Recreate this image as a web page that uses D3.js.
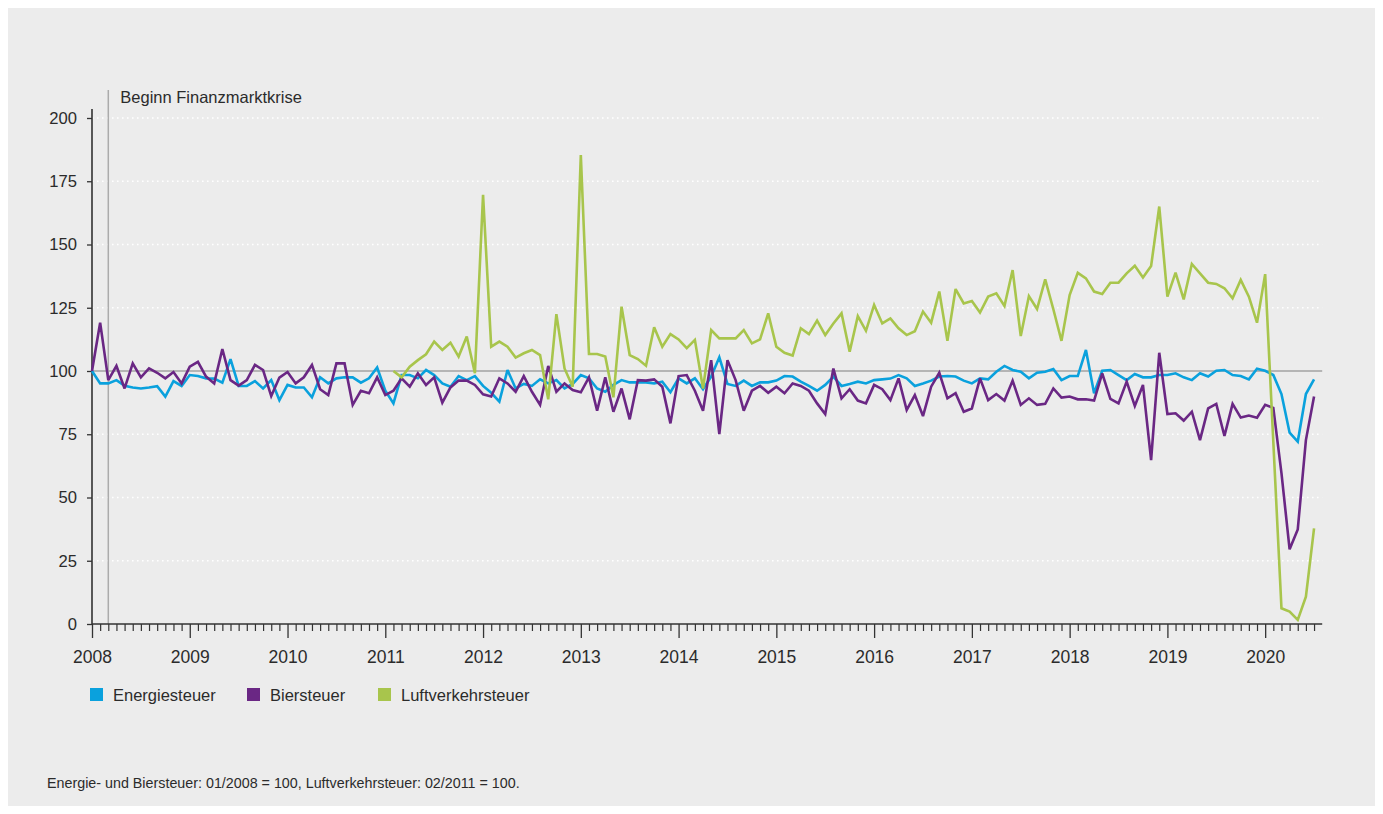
<!DOCTYPE html>
<html lang="de">
<head>
<meta charset="utf-8">
<title>Energiesteuer, Biersteuer, Luftverkehrsteuer</title>
<script src="https://cdn.jsdelivr.net/npm/d3@7"></script>
<style>
    html, body { margin: 0; padding: 0; background: #ffffff; }
    #canvas { width: 1383px; height: 814px; }
    text { font-family: "Liberation Sans", Arial, Helvetica, sans-serif; fill: #2b2b2b; }
</style>
</head>
<body>
<div id="canvas"></div>
<script>
/* Data (monthly index values, 01/2008 ... 07/2020) */
const firstYear = 2008;
const yearLabels = ['2008', '2009', '2010', '2011', '2012', '2013', '2014',
    '2015', '2016', '2017', '2018', '2019', '2020'];

const energiesteuer = [
    100, 95.1, 95.1, 96.4, 94.2, 93.5, 93.1, 93.5, 94, 89.9,
    96, 94.1, 98.4, 98, 97.1, 97, 95.4, 104.7, 94.1, 94.1,
    96, 93.1, 96.4, 88.5, 94.5, 93.5, 93.5, 89.6, 97.5, 95.1,
    97.1, 97.5, 97.5, 95.4, 97.1, 101.4, 92.2, 87.2, 98.4, 98.4,
    97.1, 100.4, 98.4, 95.1, 93.8, 98, 96.4, 98, 94.1, 91.4,
    87.9, 100.4, 93.1, 94.9, 94.1, 96.7, 95.1, 96.4, 93.1, 94.9,
    98.4, 97.1, 93.1, 91.8, 94.5, 96.4, 95.5, 95.5, 95.5, 95.1,
    95.8, 91.6, 97.1, 95.1, 97.1, 92.8, 97.8, 105.4, 94.9, 94.1,
    96.2, 94.1, 95.5, 95.5, 96.2, 98, 97.8, 95.8, 94.1, 92.2,
    94.5, 97.8, 94.1, 94.9, 95.8, 95.1, 96.4, 96.7, 97, 98.4,
    97.1, 94.1, 95.1, 96.2, 97.8, 98, 97.8, 96.2, 95.1, 97.1,
    96.7, 99.7, 102, 100.4, 99.7, 97.1, 99.3, 99.7, 100.8, 96.4,
    98, 98, 108.3, 91.2, 100.1, 100.4, 98.4, 96.4, 98.8, 97.5,
    97.5, 98.4, 98.4, 99.1, 97.5, 96.4, 99.1, 97.8, 100.1, 100.4,
    98.4, 98, 96.7, 100.9, 100.1, 98.4, 90.9, 75.6, 72.1, 90.9,
    96.7
];

const biersteuer = [
    100, 119.1, 96.4, 102, 93.1, 103, 97.5, 101, 99.3, 97.1,
    99.6, 95.1, 101.7, 103.6, 97.8, 95.1, 108.7, 96.4, 94.2, 96.4,
    102.4, 100.4, 90.1, 97.4, 99.6, 95.1, 97.5, 102.4, 92.8, 90.5,
    103, 103, 86.6, 92.2, 91.2, 97.5, 90.5, 92.2, 97.1, 93.8,
    99.1, 94.5, 97.5, 87.5, 93.5, 96.2, 96.2, 94.5, 90.8, 89.9,
    97.1, 95.1, 91.8, 98, 91.8, 86.6, 102, 91.8, 95.1, 92.5,
    91.6, 97.5, 84.3, 97.5, 83.9, 93.1, 80.9, 96.4, 96.2, 96.7,
    93.8, 79.3, 98, 98.4, 92.2, 84.3, 104.3, 75.1, 104.3, 96.4,
    84.3, 92.2, 94.1, 91.4, 93.8, 91.2, 95.1, 94.1, 92.2, 87.2,
    83, 101, 89.2, 92.8, 88.3, 87.2, 94.5, 92.8, 88.5, 97.1,
    84.6, 90.5, 82.2, 93.8, 99.3, 89.2, 91.2, 83.9, 85.2, 97.1,
    88.5, 90.9, 88.3, 96.2, 86.6, 89.2, 86.6, 87, 93.1, 89.5,
    89.9, 88.8, 88.8, 88.3, 99.1, 89, 87.2, 95.8, 86.2, 94.5,
    64.8, 107.2, 83, 83.3, 80.4, 83.9, 72.7, 85.2, 87, 74.3,
    87, 81.6, 82.4, 81.5, 86.6, 85.4, 59.6, 29.5, 37.4, 72.7,
    89.9
];

// Luftverkehrsteuer starts 02/2011 (month index 37)
const luftStartMonth = 37;
const luftverkehrsteuer = [
    100, 97.5, 101.7,
    104.3, 106.6, 111.6, 108.3, 111.2, 105.7, 113.6, 99.1, 169.6, 109.6,
    111.6, 109.6, 105.3, 107, 108.3, 106.3, 88.8, 122.5, 101, 93.8,
    185.4, 106.7, 106.7, 105.7, 89.6, 125.4, 106.3, 104.7, 102.1, 117.3,
    109.6, 114.6, 112.5, 109, 112.3, 93.1, 116.2, 112.9, 112.9, 112.9,
    116.2, 110.9, 112.5, 122.8, 109.6, 107.2, 106.1, 116.9, 114.6, 119.9,
    114.2, 118.8, 122.8, 107.6, 121.7, 115.9, 126.1, 118.8, 120.8, 116.9,
    114.2, 115.7, 123.5, 119.1, 131.4, 111.9, 132.4, 126.7, 127.7, 123.1,
    129.4, 130.7, 125.7, 139.9, 113.8, 129.6, 124.5, 136.2, 124.4, 111.9,
    130, 138.8, 136.6, 131.4, 130.4, 134.9, 134.9, 138.6, 141.6, 137,
    141.5, 165, 129.4, 138.9, 128.3, 142.3, 138.6, 134.9, 134.4, 132.7,
    128.7, 136, 129.4, 119.1, 138.3, 72, 6.2, 4.9, 1.6, 10.8,
    37.8
];

const yTicks = [0, 25, 50, 75, 100, 125, 150, 175, 200];
const seriesNames = ['Energiesteuer', 'Biersteuer', 'Luftverkehrsteuer'];
const seriesColors = ['#0aa1dd', '#6a2784', '#a8c54c'];
const crisisMonth = 2;
const crisisLabel = 'Beginn Finanzmarktkrise';
const footnote = 'Energie- und Biersteuer: 01/2008 = 100, Luftverkehrsteuer: 02/2011 = 100.';

function initVisualization() {
    'use strict';

    /* Configuration */
    const config = {
        width: 1383,
        height: 814,
        left: 92,
        monthWidth: 8.147,
        top: 118,
        bottom: 624,
        lineWidth: 2.6
    };

    const nMonths = energiesteuer.length;

    /* Scales */
    const x = d3.scaleLinear()
        .domain([0, nMonths])
        .range([config.left, config.left + nMonths * config.monthWidth]);

    const y = d3.scaleLinear()
        .domain([0, 200])
        .range([config.bottom, config.top]);

    const svg = d3.select('#canvas').append('svg')
        .attr('width', config.width)
        .attr('height', config.height);

    // grey panel
    svg.append('rect')
        .attr('x', 8).attr('y', 8)
        .attr('width', config.width - 16)
        .attr('height', config.height - 16)
        .attr('fill', '#ececec');

    /* Grid lines */
    const gridX1 = x(0);
    const gridX2 = x(nMonths);

    svg.append('g')
        .selectAll('line')
        .data(yTicks.filter(d => d !== 0 && d !== 100))
        .join('line')
        .attr('x1', gridX1)
        .attr('x2', gridX2)
        .attr('y1', d => y(d))
        .attr('y2', d => y(d))
        .attr('stroke', '#ffffff')
        .attr('stroke-width', 1.6)
        .attr('stroke-dasharray', '1.6,3.4');

    svg.append('line')
        .attr('x1', gridX1).attr('x2', gridX2)
        .attr('y1', y(100)).attr('y2', y(100))
        .attr('stroke', '#a3a3a3')
        .attr('stroke-width', 1.5);

    /* Crisis marker */
    svg.append('line')
        .attr('x1', x(crisisMonth)).attr('x2', x(crisisMonth))
        .attr('y1', 90).attr('y2', y(0))
        .attr('stroke', '#ababab')
        .attr('stroke-width', 1.5);

    svg.append('text')
        .attr('x', x(crisisMonth) + 12)
        .attr('y', 103)
        .style('font-size', '16.5px')
        .text(crisisLabel);

    /* Axes */
    const yAxis = d3.axisLeft(y)
        .tickValues(yTicks)
        .tickSize(5)
        .tickPadding(10)
        .tickSizeOuter(0);

    const gy = svg.append('g')
        .attr('transform', `translate(${config.left},0)`)
        .call(yAxis);
    gy.select('.domain').remove();
    gy.selectAll('.tick line').attr('stroke', '#333').attr('stroke-width', 1.3);
    gy.selectAll('.tick text').style('font-size', '16.6px').attr('fill', '#2b2b2b');

    svg.append('line')
        .attr('x1', config.left).attr('x2', config.left)
        .attr('y1', 109).attr('y2', y(0))
        .attr('stroke', '#333')
        .attr('stroke-width', 1.6);

    const monthTicks = d3.range(0, nMonths);
    const xMinor = d3.axisBottom(x)
        .tickValues(monthTicks.filter(m => m % 12 !== 0))
        .tickSize(7)
        .tickFormat('')
        .tickSizeOuter(0);

    const gxMinor = svg.append('g')
        .attr('transform', `translate(0,${config.bottom})`)
        .call(xMinor);
    gxMinor.select('.domain').remove();
    gxMinor.selectAll('.tick line').attr('stroke', '#333').attr('stroke-width', 1.2);

    const xMajor = d3.axisBottom(x)
        .tickValues(yearLabels.map((d, i) => i * 12))
        .tickSize(14)
        .tickPadding(6)
        .tickFormat((d, i) => yearLabels[i])
        .tickSizeOuter(0);

    const gxMajor = svg.append('g')
        .attr('transform', `translate(0,${config.bottom})`)
        .call(xMajor);
    gxMajor.select('.domain').remove();
    gxMajor.selectAll('.tick line').attr('stroke', '#333').attr('stroke-width', 1.3);
    gxMajor.selectAll('.tick text')
        .style('font-size', '17.5px')
        .attr('fill', '#2b2b2b')
        .attr('dy', '0.71em')
        .attr('y', 27);

    svg.append('line')
        .attr('x1', config.left).attr('x2', x(nMonths))
        .attr('y1', y(0)).attr('y2', y(0))
        .attr('stroke', '#333')
        .attr('stroke-width', 1.6);

    /* Lines */
    const line = d3.line()
        .defined(d => d.value != null)
        .x(d => x(d.month))
        .y(d => y(d.value));

    const series = [
        energiesteuer.map((v, i) => ({ month: i, value: v })),
        biersteuer.map((v, i) => ({ month: i, value: v })),
        luftverkehrsteuer.map((v, i) => ({ month: luftStartMonth + i, value: v }))
    ];

    svg.append('g')
        .selectAll('path')
        .data(series)
        .join('path')
        .attr('d', line)
        .attr('fill', 'none')
        .attr('stroke', (d, i) => seriesColors[i])
        .attr('stroke-width', config.lineWidth)
        .attr('stroke-linejoin', 'miter')
        .attr('stroke-miterlimit', 3);

    /* Legend */
    const legendX = [90, 247, 378];
    const legend = svg.append('g')
        .selectAll('g')
        .data(seriesNames)
        .join('g')
        .attr('transform', (d, i) => `translate(${legendX[i]},688)`);

    legend.append('rect')
        .attr('width', 13)
        .attr('height', 13)
        .attr('fill', (d, i) => seriesColors[i]);

    legend.append('text')
        .attr('x', 23)
        .attr('y', 12.5)
        .style('font-size', '16.5px')
        .text(d => d);

    /* Footnote */
    svg.append('text')
        .attr('x', 47)
        .attr('y', 788)
        .style('font-size', '14.3px')
        .attr('fill', '#1a1a1a')
        .text(footnote);
}

if (document.readyState === 'loading') {
    document.addEventListener('DOMContentLoaded', initVisualization);
} else {
    initVisualization();
}
</script>
</body>
</html>
